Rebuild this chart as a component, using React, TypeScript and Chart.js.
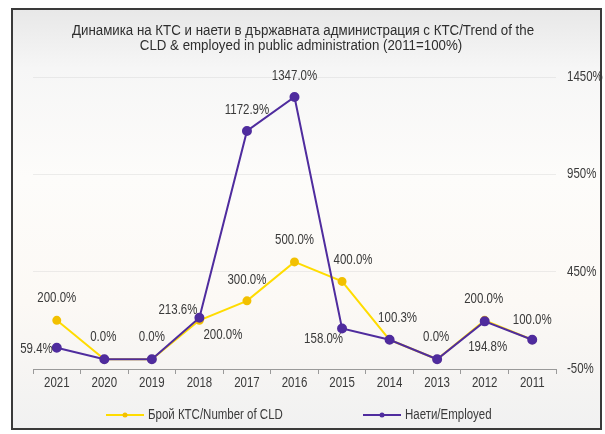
import React, { useEffect, useRef } from "react";
import { Chart, registerables } from "chart.js";

Chart.register(...registerables);

const CATEGORIES = ["2021", "2020", "2019", "2018", "2017", "2016", "2015", "2014", "2013", "2012", "2011"];
const CLD_VALUES = [200.0, 0.0, 0.0, 200.0, 300.0, 500.0, 400.0, 100.0, 0.0, 200.0, 100.0];
const EMPLOYED_VALUES = [59.4, 0.0, 0.0, 213.6, 1172.9, 1347.0, 158.0, 100.3, 0.0, 194.8, 100.0];
const CLD_NAME = "Брой КТС/Number of CLD";
const EMPLOYED_NAME = "Наети/Employed";
const TITLE_LINES = [
  "Динамика на КТС и наети в държавната администрация с КТС/Trend of the",
  "CLD & employed in public administration (2011=100%)",
];
const Y_MIN = -50;
const Y_MAX = 1450;
const Y_STEP = 500;

// label placement (style only): dx, dy offsets from the point, text alignment; null = no label
type LP = { dx: number; dy: number; align?: CanvasTextAlign } | null;
const CLD_LABEL_POS: LP[] = [
  { dx: 0, dy: -22 }, null, null, { dx: 4, dy: 15, align: "left" }, { dx: 0, dy: -21 },
  { dx: 0, dy: -22 }, { dx: 11, dy: -21 }, null, null, { dx: -1, dy: -21 }, null,
];
const EMP_LABEL_POS: LP[] = [
  { dx: -4, dy: 1, align: "right" }, { dx: -1, dy: -22 }, { dx: 0, dy: -22 }, { dx: -2, dy: -8, align: "right" },
  { dx: 0, dy: -21 }, { dx: 0, dy: -21 }, { dx: 1, dy: 11, align: "right" }, { dx: 8, dy: -22 },
  { dx: -1, dy: -22 }, { dx: 3, dy: 26 }, { dx: 0, dy: -20 },
];

const FONT = "'Liberation Sans', Arial, sans-serif";
const FONT_SIZE = 14;
const SQUEEZE = 0.82;
const TITLE_SQUEEZE = 0.95;
const TEXT = "#3a3a3a";
const YELLOW_LINE = "#ffdc00";
const YELLOW_POINT = "#f2c000";
const PURPLE = "#4f2c9e";

function drawText(
  ctx: CanvasRenderingContext2D,
  text: string,
  x: number,
  y: number,
  align: CanvasTextAlign,
  color: string,
  squeeze: number = SQUEEZE
) {
  ctx.save();
  ctx.font = `${FONT_SIZE}px ${FONT}`;
  ctx.fillStyle = color;
  ctx.textBaseline = "middle";
  ctx.textAlign = align;
  ctx.translate(x, y);
  ctx.scale(squeeze, 1);
  ctx.fillText(text, 0, 0);
  ctx.restore();
}

const decorPlugin = {
  id: "customDecor",
  afterDraw(chart: any) {
    const ctx = chart.ctx as CanvasRenderingContext2D;
    const xs = chart.scales.x;
    const ys = chart.scales.y;

    // x tick labels
    xs.ticks.forEach((t: any, i: number) => {
      drawText(ctx, String(xs.getLabelForValue(t.value)), xs.getPixelForTick(i), chart.chartArea.bottom + 14, "center", TEXT);
    });
    // y tick labels (right)
    ys.ticks.forEach((t: any) => {
      drawText(ctx, t.value + "%", chart.chartArea.right + 11, ys.getPixelForValue(t.value), "left", TEXT);
    });

    // data labels
    const drawFor = (dsIndex: number, pos: LP[]) => {
      const meta = chart.getDatasetMeta(dsIndex);
      const data = chart.data.datasets[dsIndex].data as number[];
      meta.data.forEach((pt: any, i: number) => {
        const p = pos[i];
        if (!p) return;
        drawText(ctx, data[i].toFixed(1) + "%", pt.x + p.dx, pt.y + p.dy, p.align || "center", TEXT);
      });
    };
    drawFor(0, CLD_LABEL_POS);
    drawFor(1, EMP_LABEL_POS);

    // title
    drawText(ctx, TITLE_LINES[0], 303, 31, "center", "#2e2e2e", TITLE_SQUEEZE);
    drawText(ctx, TITLE_LINES[1], 301, 46, "center", "#2e2e2e", TITLE_SQUEEZE);

    // legend
    const legendY = 415;
    const items = [
      { x: 106, ds: chart.data.datasets[0] },
      { x: 363, ds: chart.data.datasets[1] },
    ];
    items.forEach((it) => {
      ctx.save();
      ctx.strokeStyle = it.ds.borderColor;
      ctx.lineWidth = 2;
      ctx.beginPath();
      ctx.moveTo(it.x, legendY);
      ctx.lineTo(it.x + 38, legendY);
      ctx.stroke();
      ctx.fillStyle = it.ds.pointBackgroundColor;
      ctx.beginPath();
      ctx.arc(it.x + 19, legendY, 2.5, 0, Math.PI * 2);
      ctx.fill();
      ctx.restore();
      drawText(ctx, it.ds.label, it.x + 42, legendY, "left", TEXT);
    });
  },
};

export default function App() {
  const ref = useRef<HTMLCanvasElement>(null);
  useEffect(() => {
    if (!ref.current) return;
    const chart = new Chart(ref.current, {
      type: "line",
      data: {
        labels: CATEGORIES,
        datasets: [
          {
            label: CLD_NAME,
            data: CLD_VALUES,
            borderColor: YELLOW_LINE,
            backgroundColor: YELLOW_POINT,
            pointBackgroundColor: YELLOW_POINT,
            pointBorderColor: YELLOW_POINT,
            pointRadius: 3.5,
            borderWidth: 2,
            tension: 0,
            order: 1,
          },
          {
            label: EMPLOYED_NAME,
            data: EMPLOYED_VALUES,
            borderColor: PURPLE,
            backgroundColor: PURPLE,
            pointBackgroundColor: PURPLE,
            pointBorderColor: PURPLE,
            pointRadius: 4,
            borderWidth: 2,
            tension: 0,
            order: 0,
          },
        ],
      },
      options: {
        animation: false,
        responsive: false,
        maintainAspectRatio: false,
        layout: { padding: { left: 33, right: 0, top: 77, bottom: 36 } },
        plugins: { legend: { display: false }, title: { display: false }, tooltip: { enabled: false } },
        scales: {
          x: {
            type: "category",
            offset: true,
            grid: { offset: true, drawOnChartArea: false, tickLength: 5, color: "#9a9a9a" },
            border: { display: true, color: "#9a9a9a", width: 1 },
            ticks: { display: false, autoSkip: false },
            afterFit(scale: any) {
              scale.height = 29;
            },
          },
          y: {
            position: "right",
            min: Y_MIN,
            max: Y_MAX,
            ticks: { stepSize: Y_STEP, display: false },
            grid: { drawTicks: false, color: "rgba(200,200,200,0.3)" },
            border: { display: false },
            afterFit(scale: any) {
              scale.width = 49;
            },
          },
        },
      },
      plugins: [decorPlugin],
    });
    return () => chart.destroy();
  }, []);

  return (
    <div style={{ position: "fixed", left: 0, top: 0, width: 605, height: 434, background: "#fff" }}>
      <div
        style={{
          position: "absolute",
          left: 11,
          top: 8,
          width: 587,
          height: 418,
          border: "2px solid #3a3a3a",
          background:
            "linear-gradient(to bottom, #e8e8e8 0%, #f6f6f6 14%, #fdfcfa 40%, #fcf9f5 70%, #f1f1f1 100%)",
        }}
      />
      <canvas ref={ref} width={605} height={434} style={{ position: "absolute", left: 0, top: 0 }} />
    </div>
  );
}
